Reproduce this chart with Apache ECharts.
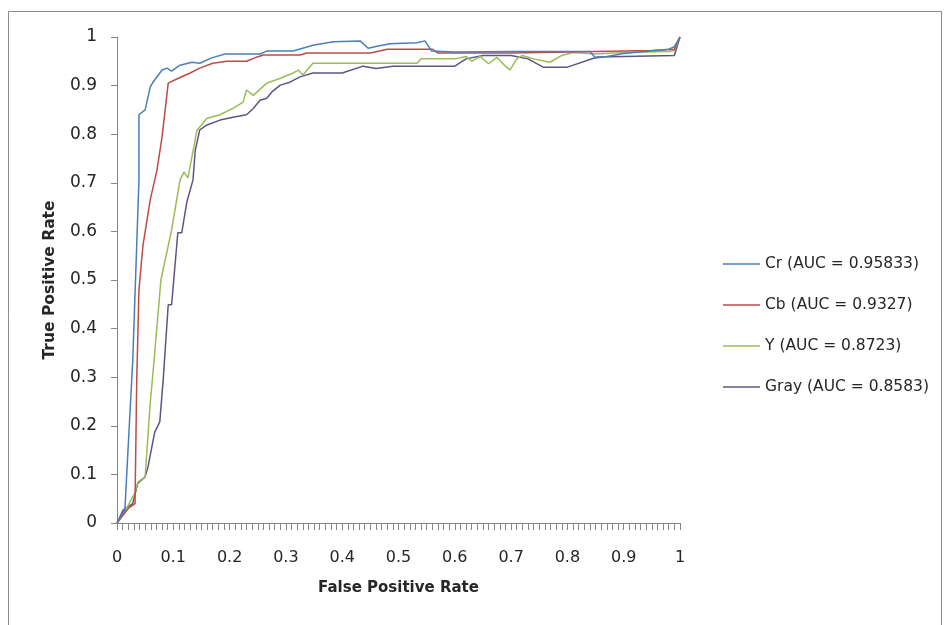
<!DOCTYPE html>
<html>
<head>
<meta charset="utf-8">
<script src="https://cdn.jsdelivr.net/npm/echarts@6/dist/echarts.min.js"></script>
<style>
  html, body { margin: 0; padding: 0; background: #fff; }
  #chart { width: 950px; height: 625px; }
</style>
</head>
<body>
<div id="chart"></div>
<script>
// ROC points: [false positive rate, true positive rate]
const crPoints = [
  [0, 0], [0.014, 0.027], [0.02, 0.16], [0.028, 0.335], [0.039, 0.706], [0.039, 0.84],
  [0.05, 0.85], [0.059, 0.897], [0.064, 0.907], [0.08, 0.932], [0.089, 0.936], [0.097, 0.93],
  [0.112, 0.942], [0.133, 0.948], [0.147, 0.946], [0.168, 0.957], [0.192, 0.965], [0.254, 0.965],
  [0.266, 0.971], [0.313, 0.971], [0.348, 0.983], [0.384, 0.99], [0.432, 0.992], [0.446, 0.977],
  [0.462, 0.981], [0.485, 0.986], [0.533, 0.988], [0.547, 0.992], [0.559, 0.971], [0.6, 0.969],
  [0.7, 0.97], [0.84, 0.97], [0.85, 0.957], [0.87, 0.96], [0.9, 0.966], [0.98, 0.975],
  [0.99, 0.98], [1, 1]
];
const cbPoints = [
  [0, 0], [0.01, 0.015], [0.02, 0.03], [0.032, 0.04], [0.035, 0.29], [0.039, 0.48],
  [0.046, 0.57], [0.059, 0.665], [0.071, 0.726], [0.08, 0.794], [0.091, 0.905], [0.107, 0.914],
  [0.13, 0.926], [0.147, 0.936], [0.17, 0.946], [0.195, 0.95], [0.23, 0.95], [0.249, 0.959],
  [0.26, 0.963], [0.325, 0.963], [0.337, 0.967], [0.45, 0.967], [0.48, 0.975], [0.56, 0.975],
  [0.57, 0.967], [0.7, 0.967], [0.85, 0.97], [0.95, 0.972], [0.99, 0.975], [1, 1]
];
const yPoints = [
  [0, 0], [0.012, 0.02], [0.032, 0.062], [0.037, 0.084], [0.05, 0.095], [0.059, 0.247],
  [0.064, 0.31], [0.078, 0.5], [0.097, 0.603], [0.112, 0.706], [0.119, 0.722], [0.126, 0.71],
  [0.142, 0.808], [0.16, 0.833], [0.183, 0.84], [0.206, 0.853], [0.224, 0.866], [0.23, 0.891],
  [0.242, 0.88], [0.266, 0.905], [0.29, 0.915], [0.313, 0.926], [0.322, 0.932], [0.33, 0.922],
  [0.348, 0.946], [0.533, 0.946], [0.54, 0.955], [0.6, 0.955], [0.62, 0.96], [0.63, 0.95],
  [0.645, 0.96], [0.66, 0.945], [0.675, 0.958], [0.69, 0.94], [0.698, 0.932], [0.71, 0.955],
  [0.72, 0.962], [0.74, 0.955], [0.769, 0.948], [0.79, 0.962], [0.81, 0.968], [0.85, 0.965],
  [0.9, 0.968], [0.98, 0.97], [0.99, 0.972], [1, 1]
];
const grayPoints = [
  [0, 0], [0.011, 0.027], [0.028, 0.04], [0.037, 0.082], [0.05, 0.095], [0.055, 0.115],
  [0.067, 0.187], [0.076, 0.208], [0.082, 0.294], [0.091, 0.449], [0.097, 0.449], [0.108, 0.597],
  [0.115, 0.597], [0.124, 0.66], [0.135, 0.706], [0.139, 0.767], [0.147, 0.809], [0.16, 0.819],
  [0.183, 0.829], [0.206, 0.835], [0.23, 0.84], [0.242, 0.853], [0.254, 0.87], [0.266, 0.874],
  [0.275, 0.887], [0.29, 0.901], [0.307, 0.907], [0.325, 0.918], [0.348, 0.926], [0.4, 0.926],
  [0.437, 0.94], [0.46, 0.935], [0.49, 0.94], [0.6, 0.94], [0.62, 0.955], [0.65, 0.962],
  [0.7, 0.962], [0.73, 0.955], [0.757, 0.938], [0.8, 0.938], [0.853, 0.959], [0.9, 0.96],
  [0.99, 0.962], [1, 1]
];

const seriesNames = ['Cr (AUC = 0.95833)', 'Cb (AUC = 0.9327)', 'Y (AUC = 0.8723)', 'Gray (AUC = 0.8583)'];
const seriesColors = ['#4A7EBB', '#BE4B48', '#9BBB59', '#5E5488'];
const seriesData = [crPoints, cbPoints, yPoints, grayPoints];

const chart = echarts.init(document.getElementById('chart'));
const font = '"DejaVu Sans", sans-serif';
const axisColor = '#868686';
const textColor = '#262626';

const option = {
  animation: false,
  backgroundColor: '#fff',
  textStyle: { fontFamily: font },
  graphic: [
    {
      type: 'rect',
      shape: { x: 8.5, y: 11.5, width: 933, height: 700 },
      style: { fill: 'none', stroke: '#8c8c8c', lineWidth: 1 }
    }
  ],
  grid: { left: 117, right: 270, top: 37, bottom: 102 },
  legend: {
    orient: 'vertical',
    left: 718,
    top: 251,
    icon: 'rect',
    itemWidth: 37,
    itemHeight: 1.5,
    itemGap: 25,
    data: seriesNames,
    textStyle: { fontFamily: font, fontSize: 15.5, color: textColor }
  },
  xAxis: {
    type: 'value',
    min: 0,
    max: 1,
    interval: 0.1,
    name: 'False Positive Rate',
    nameLocation: 'middle',
    nameGap: 58,
    nameTextStyle: { fontFamily: font, fontSize: 15, fontWeight: 'bold', color: textColor },
    axisLine: { show: true, lineStyle: { color: axisColor, width: 1 } },
    axisTick: { show: true, inside: false, length: 7, lineStyle: { color: axisColor } },
    minorTick: { show: true, splitNumber: 10, length: 7, lineStyle: { color: axisColor } },
    axisLabel: { margin: 27, fontSize: 16, color: textColor, fontFamily: font },
    splitLine: { show: false }
  },
  yAxis: {
    type: 'value',
    min: 0,
    max: 1,
    interval: 0.1,
    name: 'True Positive Rate',
    nameLocation: 'middle',
    nameGap: 59,
    nameTextStyle: { fontFamily: font, fontSize: 15.5, fontWeight: 'bold', color: textColor },
    axisLine: { show: true, lineStyle: { color: axisColor, width: 1 } },
    axisTick: { show: true, inside: false, length: 6, lineStyle: { color: axisColor } },
    axisLabel: { margin: 20, fontSize: 17, color: textColor, fontFamily: font },
    splitLine: { show: false }
  },
  series: seriesData.map((pts, i) => ({
    name: seriesNames[i],
    type: 'line',
    data: pts,
    symbol: 'none',
    showSymbol: false,
    color: seriesColors[i],
    lineStyle: { width: 1.5, color: seriesColors[i] },
    z: 10 - i
  }))
};

chart.setOption(option);
</script>
</body>
</html>
